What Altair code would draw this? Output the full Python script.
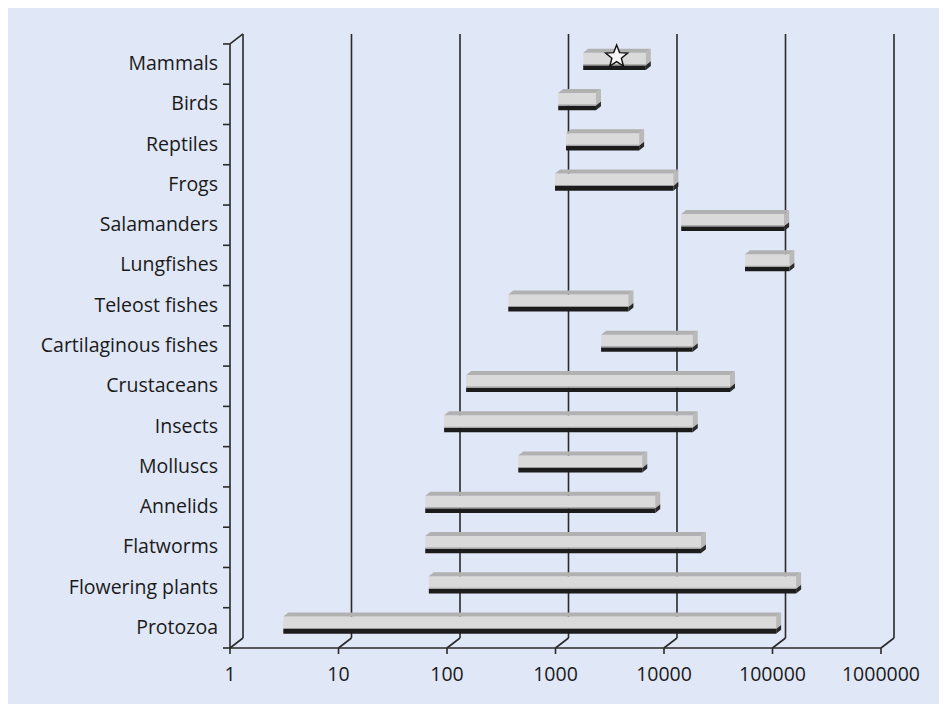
import math
import altair as alt
import pandas as pd

# ---- data (genome size ranges, log axis) ----
categories = ["Mammals", "Birds", "Reptiles", "Frogs", "Salamanders", "Lungfishes",
              "Teleost fishes", "Cartilaginous fishes", "Crustaceans", "Insects",
              "Molluscs", "Annelids", "Flatworms", "Flowering plants", "Protozoa"]
low = [1800, 1060, 1250, 990, 14400, 55800, 367, 2630, 150, 94, 454, 63, 63, 68, 3.1]
high = [6800, 2360, 5900, 12200, 128000, 143000, 4700, 18400, 40600, 18400, 6300,
        8300, 21900, 165000, 108000]
star_category = "Mammals"
star_value = 3660
tick_values = [1, 10, 100, 1000, 10000, 100000, 1000000]
tick_labels = ["1", "10", "100", "1000", "10000", "100000", "1000000"]

# ---- geometry (pixels per unit, used only for the pseudo-3D depth) ----
PX_DEC = 108.5
PX_BAND = 40.27
W, H = 664, 614
XMAX = W / PX_DEC
YMAX = H / PX_BAND
BX, BY = 13 / PX_DEC, 10 / PX_BAND   # wall depth
DX, DY = 5 / PX_DEC, 4 / PX_BAND     # bar depth
TK = 7 / PX_DEC                      # left tick length
XT = 6 / PX_BAND                     # bottom tick length
XL = 27 / PX_BAND                    # bottom label offset
B0, B1, G1, F1 = 0.355, 0.47, 0.495, 0.78  # bar face levels within band

LINE = "#2a2a2a"
BG = "#e0e7f6"
TXT = "#1a1a1a"
FONT = "Open Sans"
FS = 19.5

# five-pointed star outline as an SVG path (unit radius)
_pts = []
for k in range(10):
    a = math.radians(-90 + 36 * k)
    r = 1.0 if k % 2 == 0 else 0.43
    _pts.append(f"{r * math.cos(a):.4f},{r * math.sin(a):.4f}")
STAR_PATH = "M" + "L".join(_pts) + "Z"

n = len(categories)
rows = []
for k, (c, lo, hi) in enumerate(zip(categories, low, high)):
    i = n - 1 - k
    rows.append(dict(cat=c, i=i, lo=math.log10(lo), hi=math.log10(hi)))
bars = pd.DataFrame(rows)
bars["yb0"] = bars.i + B0
bars["yb1"] = bars.i + B1
bars["yg1"] = bars.i + G1
bars["yf1"] = bars.i + F1
bars["yc"] = bars.i + 0.5
bars["xl"] = -12 / PX_DEC

top_rows, side_rows, sidek_rows = [], [], []
for r in rows:
    i, lo, hi = r["i"], r["lo"], r["hi"]
    t0, t1 = i + F1, i + F1 + DY
    for (x, y, y2) in [(lo, t0, t0), (lo + DX, t0, t1), (hi, t0, t1), (hi + DX, t1, t1)]:
        top_rows.append(dict(cat=r["cat"], ax=x, ay=y, ay2=y2))
    side_rows.append(dict(cat=r["cat"], ax=hi, ay=i + B1, ay2=i + F1))
    side_rows.append(dict(cat=r["cat"], ax=hi + DX, ay=i + B1 + DY, ay2=i + F1 + DY))
    sidek_rows.append(dict(cat=r["cat"], ax=hi, ay=i + B0, ay2=i + B1))
    sidek_rows.append(dict(cat=r["cat"], ax=hi + DX, ay=i + B0 + DY, ay2=i + B1 + DY))
top_df = pd.DataFrame(top_rows)
side_df = pd.DataFrame(side_rows)
sidek_df = pd.DataFrame(sidek_rows)

decs = [math.log10(t) for t in tick_values]
wall = []
for d in decs:
    wall.append(dict(wx=d + BX, wy=BY, wx2=d + BX, wy2=YMAX))   # back verticals
    wall.append(dict(wx=d, wy=0, wx2=d + BX, wy2=BY))            # floor slants
    wall.append(dict(wx=d, wy=0, wx2=d, wy2=-XT))                # bottom ticks
wall.append(dict(wx=0, wy=0, wx2=0, wy2=n))                      # front left
wall.append(dict(wx=0, wy=n, wx2=BX, wy2=n + BY))                # top slant
wall.append(dict(wx=0, wy=0, wx2=decs[-1], wy2=0))               # front axis
for b in range(n + 1):
    wall.append(dict(wx=-TK, wy=b, wx2=0, wy2=b))                # left ticks
wall_df = pd.DataFrame(wall)

xlab_df = pd.DataFrame({"tx": decs, "ty": [-XL] * len(decs), "t": tick_labels})

xs = alt.Scale(domain=[0, XMAX], nice=False, zero=False)
ys = alt.Scale(domain=[0, YMAX], nice=False, zero=False)

walls = alt.Chart(wall_df).mark_rule(color=LINE, strokeWidth=1.6).encode(
    x=alt.X("wx:Q", scale=xs, axis=None), y=alt.Y("wy:Q", scale=ys, axis=None),
    x2="wx2:Q", y2="wy2:Q")

xlabels = alt.Chart(xlab_df).mark_text(align="center", baseline="middle", font=FONT,
                                       fontSize=FS, color=TXT).encode(
    x=alt.X("tx:Q", scale=xs, axis=None), y=alt.Y("ty:Q", scale=ys, axis=None),
    text="t:N")

base = alt.Chart(bars)
front = base.mark_rect(color="#dadada").encode(
    x=alt.X("lo:Q", scale=xs, axis=None), x2="hi:Q",
    y=alt.Y("yb1:Q", scale=ys, axis=None), y2="yf1:Q")
greyline = base.mark_rect(color="#9c9c9c").encode(
    x=alt.X("lo:Q", scale=xs, axis=None), x2="hi:Q",
    y=alt.Y("yb1:Q", scale=ys, axis=None), y2="yg1:Q")
black = base.mark_rect(color="#1c1c1c").encode(
    x=alt.X("lo:Q", scale=xs, axis=None), x2="hi:Q",
    y=alt.Y("yb0:Q", scale=ys, axis=None), y2="yb1:Q")


def face(df, color):
    return alt.Chart(df).mark_area(color=color, opacity=1, orient="vertical").encode(
        x=alt.X("ax:Q", scale=xs, axis=None),
        y=alt.Y("ay:Q", scale=ys, axis=None), y2="ay2:Q",
        detail="cat:N")


top = face(top_df, "#b1b1b1")
side = face(side_df, "#b9b9b9")
sidek = face(sidek_df, "#2a2a2a")

labels = base.mark_text(align="right", baseline="middle", font=FONT, fontSize=FS,
                        color=TXT).encode(
    x=alt.X("xl:Q", scale=xs, axis=None), y=alt.Y("yc:Q", scale=ys, axis=None),
    text="cat:N")

star_i = n - 1 - categories.index(star_category)
star_df = pd.DataFrame({"sx": [math.log10(star_value)], "sy": [star_i + 0.685]})
star = alt.Chart(star_df).mark_point(shape=STAR_PATH, size=538, filled=True,
                                     fill="#f6f6f6", stroke="#111111",
                                     strokeWidth=1.4, opacity=1).encode(
    x=alt.X("sx:Q", scale=xs, axis=None), y=alt.Y("sy:Q", scale=ys, axis=None))

chart = alt.layer(walls, black, front, greyline, top, side, sidek, labels, xlabels,
                  star).properties(
    width=W, height=H, background=BG,
    autosize=alt.AutoSizeParams(type="none"),
    padding={"left": 222, "top": 26, "right": 45, "bottom": 56},
).configure_view(strokeWidth=0)

chart.save("out.html", embed_options={"renderer": "svg", "actions": False})
